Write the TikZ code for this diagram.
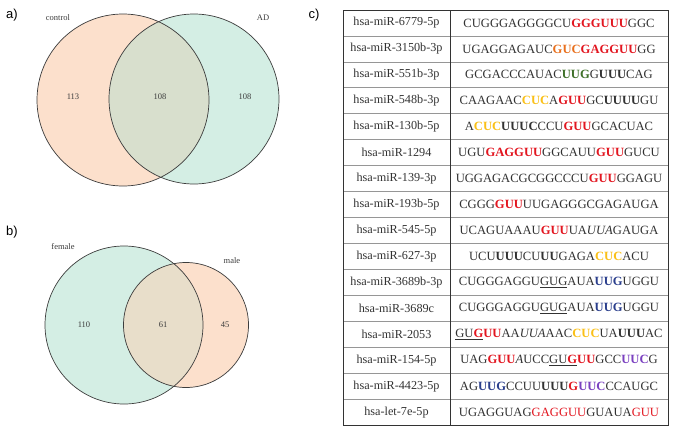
\documentclass[tikz,border=0pt]{standalone}
\usepackage{fontspec}
\setmainfont{Liberation Serif}
\newfontfamily\panelfont{Liberation Sans}
\usepackage{tikz}
\usetikzlibrary{positioning}
\definecolor{peach}{RGB}{252,224,204}
\definecolor{mint}{RGB}{212,238,228}
\definecolor{olivemix}{RGB}{216,223,205}
\definecolor{sandmix}{RGB}{232,222,202}
\definecolor{ringgray}{RGB}{60,60,60}
\definecolor{rulegray}{RGB}{150,150,150}
\definecolor{seqtext}{RGB}{50,50,50}
\definecolor{seqred}{RGB}{226,22,32}
\definecolor{seqorange}{RGB}{232,112,30}
\definecolor{seqgreen}{RGB}{62,112,40}
\definecolor{seqyellow}{RGB}{250,192,24}
\definecolor{seqblue}{RGB}{42,62,140}
\definecolor{seqpurple}{RGB}{122,64,192}
% coloured motifs in the sequences
\newcommand{\rdb}[1]{\textcolor{seqred}{\textbf{#1}}}
\newcommand{\rdn}[1]{\textcolor{seqred}{#1}}
\newcommand{\orb}[1]{\textcolor{seqorange}{\textbf{#1}}}
\newcommand{\grb}[1]{\textcolor{seqgreen}{\textbf{#1}}}
\newcommand{\ylb}[1]{\textcolor{seqyellow}{\textbf{#1}}}
\newcommand{\blb}[1]{\textcolor{seqblue}{\textbf{#1}}}
\newcommand{\pub}[1]{\textcolor{seqpurple}{\textbf{#1}}}
\newcommand{\ulg}[1]{\underline{#1}}

\begin{document}
\begin{tikzpicture}[x=1pt, y=-1pt,
  panel/.style={font=\panelfont\fontsize{13}{13}\selectfont},
  setlabel/.style={font=\fontsize{8.5}{9}\selectfont, text=ringgray},
  count/.style={font=\fontsize{8.5}{9}\selectfont, text=ringgray},
  ring/.style={draw=ringgray, line width=0.7pt},
  mirna/.style={font=\fontsize{12.2}{12}\selectfont, text=seqtext},
  seq/.style={font=\fontsize{12.6}{12}\selectfont, text=seqtext}
]
  \useasboundingbox (0,0) rectangle (677,434);

  % Panel a: control vs AD
  \node[panel] (pa) at (12,15) {a)};
  \fill[peach] (123,100) coordinate (ctrl) circle (86);
  \fill[mint] (194,99) coordinate (ad) circle (85);
  \begin{scope}
    \clip (ctrl) circle (86);
    \fill[olivemix] (ad) circle (85);
  \end{scope}
  \draw[ring] (ctrl) circle (86);
  \draw[ring] (ad) circle (85);
  \node[setlabel] (lctrl) at (58,18) {control};
  \node[setlabel] (lad) at (263,18) {AD};
  \node[count] (n113) at (73,97) {113};
  \node[count] (n108a) at (160,97) {108};
  \node[count] (n108b) at (245,97) {108};

  % Panel b: female vs male
  \node[panel] (pb) at (12,232) {b)};
  \fill[mint] (124,325) coordinate (fem) circle (79);
  \fill[peach] (186,325) coordinate (mal) circle (62.5);
  \begin{scope}
    \clip (fem) circle (79);
    \fill[sandmix] (mal) circle (62.5);
  \end{scope}
  \draw[ring] (fem) circle (79);
  \draw[ring] (mal) circle (62.5);
  \node[setlabel] (lfem) at (63,247) {female};
  \node[setlabel] (lmal) at (232,261) {male};
  \node[count] (n110) at (84,325) {110};
  \node[count] (n61) at (163,325) {61};
  \node[count] (n45) at (225,325) {45};

  % Panel c: table of miRNAs and sequences
  \node[panel] (pc) at (314,15) {c)};
  \foreach \name/\seqtxt [count=\i] in {
    {hsa-miR-6779-5p}/{CUGGGAGGGGCU\rdb{GGGUUU}GGC},
    {hsa-miR-3150b-3p}/{UGAGGAGAUC\orb{GUC}\rdb{GAGGUU}GG},
    {hsa-miR-551b-3p}/{GCGACCCAUAC\grb{UUG}G\textbf{UUU}CAG},
    {hsa-miR-548b-3p}/{CAAGAAC\ylb{CUC}A\rdb{GUU}GC\textbf{UUUU}GU},
    {hsa-miR-130b-5p}/{A\ylb{CUC}\textbf{UUUC}CCU\rdb{GUU}GCACUAC},
    {hsa-miR-1294}/{UGU\rdb{GAGGUU}GGCAUU\rdb{GUU}GUCU},
    {hsa-miR-139-3p}/{UGGAGACGCGGCCCU\rdb{GUU}GGAGU},
    {hsa-miR-193b-5p}/{CGGG\rdb{GUU}UUGAGGGCGAGAUGA},
    {hsa-miR-545-5p}/{UCAGUAAAU\rdb{GUU}UA\textit{UUA}GAUGA},
    {hsa-miR-627-3p}/{UCU\textbf{UUU}CU\textbf{UU}GAGA\ylb{CUC}ACU},
    {hsa-miR-3689b-3p}/{CUGGGAGGU\ulg{GUG}AUA\blb{UUG}UGGU},
    {hsa-miR-3689c}/{CUGGGAGGU\ulg{GUG}AUA\blb{UUG}UGGU},
    {hsa-miR-2053}/{\ulg{GU\rdb{G}}\rdb{UU}AA\textit{UUA}AAC\ylb{CUC}UA\textbf{UUU}AC},
    {hsa-miR-154-5p}/{UAG\rdb{GUU}\textit{A}UCC\ulg{GU\rdb{G}}\rdb{UU}GCC\pub{UUC}G},
    {hsa-miR-4423-5p}/{AG\blb{UUG}CCUU\textbf{UUU}\rdb{G}\pub{UUC}CCAUGC},
    {hsa-let-7e-5p}/{UGAGGUAG\rdn{GAGGUU}GUAUA\rdn{GUU}}} {
    \node[mirna] (mir\i) at (396.5,{10+(\i-0.5)*25.95}) {\name};
    \node[seq] (seq\i) at (559,{10+(\i-0.5)*25.95}) {\seqtxt};
    \ifnum\i>1
      \draw[rulegray, line width=0.8pt] (343,{10+(\i-1)*25.95}) -- (668,{10+(\i-1)*25.95});
    \fi
  }
  \draw[black!80, line width=0.8pt] (343,10) rectangle (668,425.2);
  \draw[black!80, line width=0.8pt] (450,10) -- (450,425.2);
\end{tikzpicture}
\end{document}
